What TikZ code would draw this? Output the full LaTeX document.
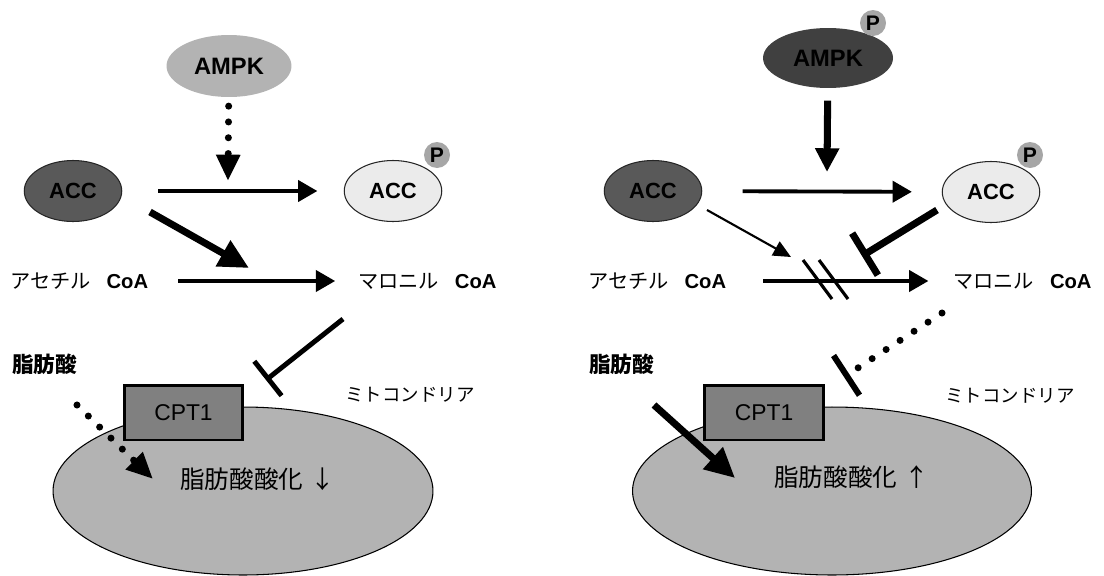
\documentclass[tikz,border=0pt]{standalone}
\usepackage{fontspec}
\setmainfont{Liberation Sans}
\newfontfamily\jp{Noto Sans CJK JP}
\usetikzlibrary{arrows.meta,shapes.geometric,calc}
\definecolor{ampklight}{HTML}{B3B3B3}
\definecolor{ampkdark}{HTML}{404040}
\definecolor{accdark}{HTML}{595959}
\definecolor{acclight}{HTML}{EBEBEB}
\definecolor{phosgray}{HTML}{A6A6A6}
\definecolor{cptgray}{HTML}{808080}
\definecolor{mitogray}{HTML}{B3B3B3}

\begin{document}
\begin{tikzpicture}[
  x=0.02cm, y=-0.02cm,
  enz/.style={
    ellipse, draw=black!85, line width=0.6pt, inner sep=0pt,
    minimum width=1.95cm, minimum height=1.22cm,
    font=\bfseries\fontsize{12.5}{14}\selectfont
  },
  kinase/.style={
    ellipse, inner sep=0pt,
    minimum width=2.5cm, minimum height=1.24cm,
    font=\bfseries\fontsize{13.5}{15}\selectfont
  },
  phos/.style={
    circle, fill=phosgray, inner sep=0pt, minimum size=0.52cm,
    font=\bfseries\fontsize{12}{14}\selectfont
  },
  cpt/.style={
    rectangle, draw=black, fill=cptgray, line width=1.7pt,
    minimum width=2.38cm, minimum height=1.1cm,
    font=\fontsize{13}{15}\selectfont
  },
  mito/.style={
    ellipse, draw=black, fill=mitogray, line width=0.6pt,
    minimum width=7.6cm, minimum height=3.36cm
  },
  lbl/.style={inner sep=0pt, anchor=west},
  coa/.style={lbl, font=\fontsize{11.5}{14}\selectfont},
  arr/.style={-{Triangle[length=11pt,width=12pt]}, line width=2.2pt},
  fatarr/.style={-{Triangle[length=17pt,width=16pt]}, line width=4pt},
  thinarr/.style={-{Triangle[length=10pt,width=9pt]}, line width=1.2pt},
  dotarr/.style={-{Triangle[length=15pt,width=13pt]}, line width=4pt,
    line cap=round, dash pattern=on 0pt off 9pt},
  inh/.style={-{Bar[width=25pt]}, line width=2.8pt},
  fatinh/.style={-{Bar[width=28pt]}, line width=4pt},
  dotinh/.style={-{Bar[width=27pt,line width=3.4pt]}, line width=4pt,
    line cap=round, dash pattern=on 0pt off 9.5pt},
  slash/.style={line width=1.8pt}
]
\useasboundingbox (0,0) rectangle (1104,575);

%% left: AMPK inactive
\node[mito] (mitoL) at (243,491) {};
\node[cpt] (cptL) at (183.5,412.5) {CPT1};
\node[kinase, fill=ampklight] (ampkL) at (229,66) {AMPK};
\node[enz, fill=accdark] (accL) at (73,191) {ACC};
\node[enz, fill=acclight] (accPL) at (393,191) {ACC};
\node[phos] (pL) at (437,155) {P};
\node[coa] (acetylL) at (10,281) {{\jp アセチル}\hspace{9pt}\textbf{CoA}};
\node[coa] (malonylL) at (358,281) {{\jp マロニル}\hspace{9pt}\textbf{CoA}};
\node[lbl, font=\jp\bfseries\fontsize{12.3}{14}\selectfont] (faL) at (12,364) {脂肪酸};
\node[font=\jp\fontsize{10.5}{12}\selectfont] (mitoLabelL) at (410,395) {ミトコンドリア};
\node[lbl, font=\jp\fontsize{14}{16}\selectfont] (oxL) at (180,479) {脂肪酸酸化\hspace{4pt}↓};

\coordinate (dropL) at (228,181);
\coordinate (joinL) at (249,268);
\coordinate (inhLs) at (343,319);
\coordinate (inhLe) at (266,380);
\coordinate (faLs) at (77,405);
\coordinate (faLe) at (153,479);

\draw[dotarr, shorten <=5pt] (ampkL) -- (dropL);
\draw[arr, shorten <=20.5pt, shorten >=15pt] (accL) -- (accPL);
\draw[fatarr] ($(accL)+(77,21)$) -- (joinL);
\draw[arr, shorten <=17pt, shorten >=13pt] (acetylL.east) -- (malonylL.west);
\draw[inh] (inhLs) -- (inhLe);
\draw[dotarr] (faLs) -- (faLe);

%% right: AMPK active
\node[mito, minimum width=7.98cm] (mitoR) at (832,491) {};
\node[cpt] (cptR) at (764,412.5) {CPT1};
\node[kinase, fill=ampkdark, minimum width=2.6cm, minimum height=1.2cm] (ampkR) at (828,58) {AMPK};
\node[phos] (pAR) at (873,23) {P};
\node[enz, fill=accdark] (accR) at (653,191) {ACC};
\node[enz, fill=acclight] (accPR) at (991,192) {ACC};
\node[phos] (pR) at (1030,155) {P};
\node[coa] (acetylR) at (588,281) {{\jp アセチル}\hspace{9pt}\textbf{CoA}};
\node[coa] (malonylR) at (953,281) {{\jp マロニル}\hspace{9pt}\textbf{CoA}};
\node[lbl, font=\jp\bfseries\fontsize{12.3}{14}\selectfont] (faR) at (589,364) {脂肪酸};
\node[font=\jp\fontsize{10.5}{12}\selectfont] (mitoLabelR) at (1010,396) {ミトコンドリア};
\node[lbl, font=\jp\fontsize{14}{16}\selectfont] (oxR) at (774,477) {脂肪酸酸化\hspace{4pt}↑};

\coordinate (dropR) at (827,172);
\coordinate (thinRs) at (707,210);
\coordinate (thinRe) at (791,257);
\coordinate (inhRs) at (937,210);
\coordinate (inhRe) at (862,256);
\coordinate (dotRs) at (942,313);
\coordinate (dotRe) at (844,377);
\coordinate (faRs) at (654,405);
\coordinate (faRe) at (735,478);

\draw[fatarr, -{Triangle[length=13.5pt,width=13pt]}, shorten <=7pt] (ampkR) -- (dropR);
\draw[arr, shorten <=23pt, shorten >=17pt] (accR) -- (accPR);
\draw[thinarr] (thinRs) -- (thinRe);
\draw[arr, shorten <=21pt, shorten >=14pt] (acetylR.east) -- (malonylR.west);
\draw[slash] (803,260) -- (832,299);
\draw[slash] (819,260) -- (848,299);
\draw[fatinh] (inhRs) -- (inhRe);
\draw[dotinh] (dotRs) -- (dotRe);
\draw[fatarr] (faRs) -- (faRe);

\end{tikzpicture}
\end{document}
